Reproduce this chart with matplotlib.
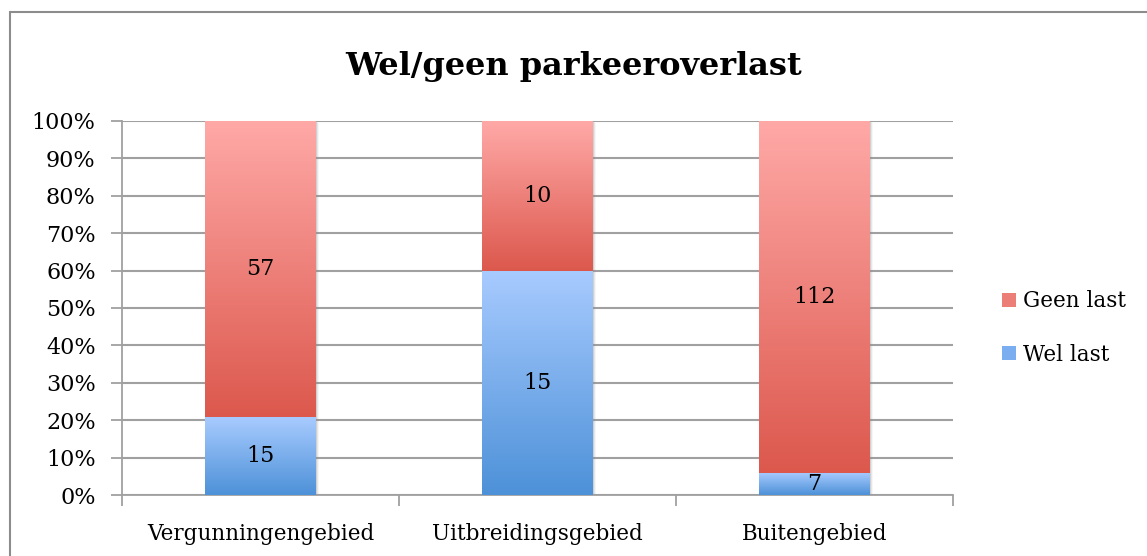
import numpy as np
import matplotlib
matplotlib.use("Agg")
import matplotlib.pyplot as plt
from matplotlib.patches import Rectangle, Patch
from matplotlib.colors import LinearSegmentedColormap

categories = ["Vergunningengebied", "Uitbreidingsgebied", "Buitengebied"]
wel_last = [15, 15, 7]
geen_last = [57, 10, 112]

plt.rcParams["font.family"] = ["DejaVu Serif"]

fig = plt.figure(figsize=(11.47, 5.56), dpi=100)
ax = fig.add_axes([0.1064, 0.1097, 0.7245, 0.6727])

# gradients per segment: light at top, darker at bottom
red_cmap = LinearSegmentedColormap.from_list("red", ["#dc584d", "#ffa9a7"])
blue_cmap = LinearSegmentedColormap.from_list("blue", ["#4d91d8", "#a8cbff"])
grad = np.linspace(0, 1, 256).reshape(-1, 1)

wel = np.array(wel_last, dtype=float)
geen = np.array(geen_last, dtype=float)
tot = wel + geen
wel_pct = wel / tot * 100
geen_pct = geen / tot * 100
x = np.arange(len(categories))
width = 0.4

b1 = ax.bar(x, wel_pct, width, color="none", zorder=3)
b2 = ax.bar(x, geen_pct, width, bottom=wel_pct, color="none", zorder=3)

def fill_gradient(bars, cmap):
    for bar in bars:
        x0, y0 = bar.get_x(), bar.get_y()
        w, h = bar.get_width(), bar.get_height()
        # soft shadow
        for k, a in [(0.004, 0.25), (0.008, 0.15), (0.012, 0.08)]:
            ax.add_patch(Rectangle((x0 + k, y0 - k * 40), w, h, color="#909090",
                                   alpha=a, zorder=2, lw=0))
        im = ax.imshow(grad, cmap=cmap, origin="lower", aspect="auto",
                       extent=[x0, x0 + w, y0, y0 + h], zorder=3)
        im.set_clip_path(bar)

fill_gradient(b1, blue_cmap)
fill_gradient(b2, red_cmap)

for i in range(len(categories)):
    ax.text(x[i], wel_pct[i] / 2, str(wel_last[i]), ha="center", va="center",
            fontsize=16, zorder=5)
    ax.text(x[i], wel_pct[i] + geen_pct[i] / 2, str(geen_last[i]), ha="center",
            va="center", fontsize=16, zorder=5)

ax.set_xlim(-0.5, 2.5)
ax.set_ylim(0, 100)
ax.set_yticks(np.arange(0, 101, 10))
ax.set_yticklabels([f"{v}%" for v in range(0, 101, 10)], fontsize=16)
ax.set_xticks(x)
ax.set_xticklabels(categories, fontsize=15.5)
ax.set_xticks([-0.5, 0.5, 1.5, 2.5], minor=True)
ax.tick_params(axis="x", which="major", length=0, pad=20)
ax.tick_params(axis="x", which="minor", length=8, color="#a0a0a0", width=1.3)
ax.tick_params(axis="y", length=8, color="#a0a0a0", width=1.3, pad=11)
ax.grid(axis="y", color="#a0a0a0", lw=1.5, zorder=0)
ax.set_axisbelow(True)
for s in ["top", "right"]:
    ax.spines[s].set_visible(False)
for s in ["left", "bottom"]:
    ax.spines[s].set_color("#a0a0a0")
    ax.spines[s].set_linewidth(1.3)

fig.suptitle("Wel/geen parkeeroverlast", x=0.5, y=0.881, va="center",
             fontsize=23, fontweight="bold")

handles = [Patch(facecolor="#ec7e78", edgecolor="none"),
           Patch(facecolor="#7aaef0", edgecolor="none")]
fig.legend(handles, ["Geen last", "Wel last"], loc="center left",
           bbox_to_anchor=(0.857, 0.41), frameon=False, fontsize=15.5,
           handlelength=0.65, handleheight=0.65, handletextpad=0.3, labelspacing=1.45)

fig.patches.append(Rectangle((0.009, -0.01), 1.2, 0.988, transform=fig.transFigure,
                             fill=False, edgecolor="#8c8c8c", lw=1.5))

fig.savefig("out.png", dpi=100)
